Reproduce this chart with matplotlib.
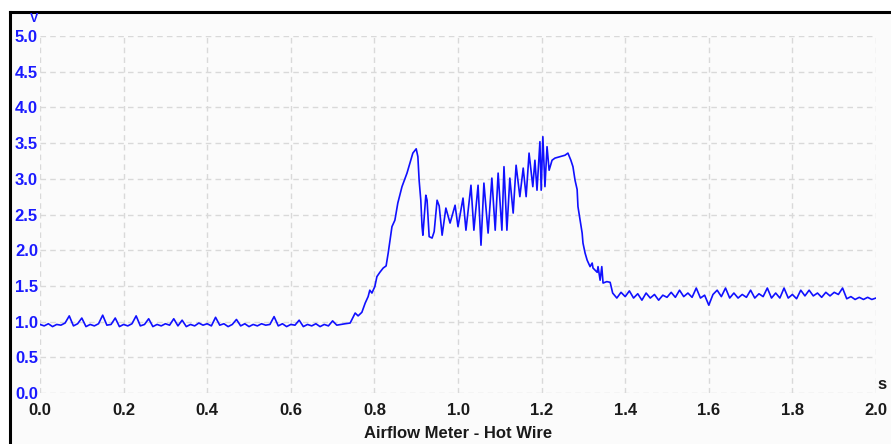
import numpy as np
import matplotlib
matplotlib.use("Agg")
import matplotlib.pyplot as plt
from matplotlib.lines import Line2D
from matplotlib.patches import Rectangle

# --- Hot-wire airflow meter signal (volts vs seconds) ---

# Idle: sampled every 10 ms from 0.00 s
idle_start, idle_step = 0.00, 0.01
idle_v = [0.96, 0.94, 0.97, 0.93, 0.96, 0.95, 0.98, 1.08, 0.94, 0.97,
          1.05, 0.93, 0.96, 0.94, 0.97, 1.09, 0.95, 0.96, 1.05, 0.93,
          0.96, 0.94, 0.97, 1.08, 0.94, 0.96, 1.04, 0.93, 0.96, 0.94,
          0.97, 0.95, 1.04, 0.94, 1.02, 0.93, 0.96, 0.94, 0.98, 0.95,
          0.97, 0.94, 1.06, 0.95, 0.97, 0.93, 0.96, 1.03, 0.94, 0.97,
          0.93, 0.96, 0.94, 0.97, 0.95, 0.96, 1.07, 0.94, 0.97, 0.93,
          0.96, 0.95, 1.02, 0.93, 0.96, 0.94, 0.97, 0.93, 0.96, 0.94,
          1.01, 0.95, 0.96, 0.97]

# Throttle opening: rise to the first peak
rise_t = [0.742, 0.754, 0.761, 0.770, 0.778, 0.785, 0.789, 0.794, 0.801,
          0.806, 0.813, 0.821, 0.828, 0.833, 0.842, 0.849, 0.856, 0.866,
          0.878, 0.885, 0.892, 0.900, 0.904, 0.907, 0.911, 0.914, 0.916]
rise_v = [0.98, 1.12, 1.08, 1.13, 1.26, 1.35, 1.44, 1.40, 1.49,
          1.63, 1.69, 1.75, 1.78, 1.96, 2.33, 2.42, 2.66, 2.89,
          3.08, 3.22, 3.36, 3.42, 3.31, 2.98, 2.70, 2.33, 2.21]

# Intake pulsation at high load
pulse_t = [0.923, 0.926, 0.931, 0.938, 0.943, 0.950, 0.955, 0.962, 0.971,
           0.981, 0.993, 1.000, 1.012, 1.019, 1.031, 1.038, 1.048, 1.055,
           1.062, 1.072, 1.081, 1.089, 1.096, 1.105, 1.110, 1.117, 1.124,
           1.132, 1.139, 1.148, 1.156, 1.163, 1.170, 1.179, 1.184, 1.189,
           1.196, 1.199, 1.203, 1.208, 1.213, 1.218, 1.225, 1.232, 1.244,
           1.256, 1.263]
pulse_v = [2.77, 2.70, 2.19, 2.17, 2.26, 2.70, 2.62, 2.21, 2.59,
           2.38, 2.63, 2.33, 2.73, 2.28, 2.91, 2.28, 2.91, 2.07,
           2.94, 2.24, 3.01, 2.28, 3.08, 2.28, 3.17, 2.28, 3.01,
           2.52, 3.19, 2.75, 3.15, 2.75, 3.36, 2.89, 3.26, 2.84,
           3.52, 2.84, 3.59, 2.89, 3.45, 3.12, 3.26, 3.29, 3.31,
           3.33, 3.36]

# Throttle closing: fall back towards idle
fall_t = [1.270, 1.275, 1.280, 1.285, 1.287, 1.292, 1.297, 1.299, 1.304,
          1.309, 1.316, 1.321, 1.323, 1.333, 1.335, 1.340, 1.344, 1.347,
          1.356, 1.364]
fall_v = [3.26, 3.17, 2.98, 2.85, 2.61, 2.42, 2.24, 2.10, 1.96,
          1.86, 1.77, 1.82, 1.75, 1.69, 1.77, 1.58, 1.77, 1.54,
          1.56, 1.55]

# Settled: sampled every 10 ms from 1.37 s
settle_start, settle_step = 1.37, 0.01
settle_v = [1.40, 1.33, 1.41, 1.35, 1.43, 1.33, 1.39, 1.30, 1.40, 1.33,
            1.38, 1.30, 1.37, 1.34, 1.41, 1.34, 1.44, 1.35, 1.40, 1.34,
            1.47, 1.33, 1.37, 1.23, 1.38, 1.44, 1.35, 1.47, 1.33, 1.40,
            1.33, 1.38, 1.34, 1.44, 1.33, 1.39, 1.35, 1.47, 1.33, 1.40,
            1.33, 1.47, 1.33, 1.38, 1.32, 1.44, 1.36, 1.44, 1.36, 1.40,
            1.34, 1.41, 1.36, 1.41, 1.38, 1.47, 1.32, 1.35, 1.31, 1.34,
            1.31, 1.34, 1.31, 1.33]

x_ticks = [0.0, 0.2, 0.4, 0.6, 0.8, 1.0, 1.2, 1.4, 1.6, 1.8, 2.0]
y_ticks = [0.0, 0.5, 1.0, 1.5, 2.0, 2.5, 3.0, 3.5, 4.0, 4.5, 5.0]
title = "Airflow Meter - Hot Wire"

idle_t = idle_start + idle_step * np.arange(len(idle_v))
settle_t = settle_start + settle_step * np.arange(len(settle_v))
t = np.concatenate([idle_t, rise_t, pulse_t, fall_t, settle_t])
v = np.concatenate([idle_v, rise_v, pulse_v, fall_v, settle_v])

W, H = 891, 444
fig = plt.figure(figsize=(W / 100, H / 100), dpi=100, facecolor="white")

# Panel background and black frame (top and left edges)
fig.add_artist(Rectangle((9 / W, 0), 1 - 9 / W, (H - 12) / H,
                         transform=fig.transFigure, facecolor="#fbfbfb",
                         edgecolor="none", zorder=-5))
fig.add_artist(Line2D([9.5 / W, 1], [1 - 12.5 / H, 1 - 12.5 / H],
                      transform=fig.transFigure, color="black", lw=2.2))
fig.add_artist(Line2D([9.5 / W, 9.5 / W], [0, 1 - 12.5 / H],
                      transform=fig.transFigure, color="black", lw=2.2))

ax = fig.add_axes([40 / W, 1 - 393 / H, (876 - 40) / W, (393 - 36) / H])
ax.set_facecolor("none")
ax.set_zorder(1)
ax.plot(t, v, color="#1010ff", lw=1.2, zorder=3)

ax.set_xlim(0, 2.0)
ax.set_ylim(0, 5.0)
ax.set_xticks(x_ticks)
ax.set_yticks(y_ticks)
ax.set_xticklabels([f"{x:.1f}" for x in x_ticks])
ax.set_yticklabels([f"{y:.1f}" for y in y_ticks])
for s in ax.spines.values():
    s.set_visible(False)
ax.grid(True, color="#d9d9d9", lw=1.0, linestyle=(0, (4, 3)))
ax.tick_params(axis="both", length=0)
ax.tick_params(axis="y", pad=1.5, labelcolor="#1a1aff")
ax.tick_params(axis="x", pad=7, labelcolor="#1a1a1a")
for lab in ax.get_xticklabels() + ax.get_yticklabels():
    lab.set_fontfamily("Liberation Sans")
    lab.set_fontweight("bold")
    lab.set_fontsize(12)

fig.text(34 / W, 1 - 19 / H, "V", color="#1a1aff", fontsize=9, fontweight="bold",
         family="Liberation Sans", ha="center", va="center", zorder=5)
fig.text(882 / W, 1 - 384 / H, "s", color="#1a1a1a", fontsize=12, fontweight="bold",
         family="Liberation Sans", ha="center", va="center")
fig.text(458 / W, 1 - 433 / H, title, color="#1a1a1a", fontsize=12,
         fontweight="bold", family="Liberation Sans", ha="center", va="center")

fig.savefig("out.png", dpi=100, facecolor=fig.get_facecolor())
